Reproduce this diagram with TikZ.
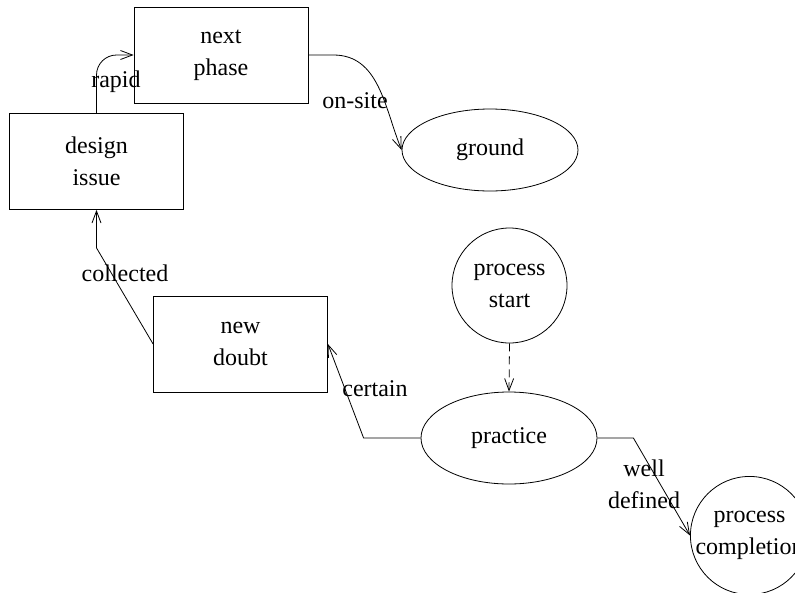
\documentclass[tikz,border=0pt]{standalone}
\usepackage{fontspec}
\setmainfont{Liberation Serif}
\usetikzlibrary{shapes.geometric,arrows.meta,calc}
\begin{document}
\begin{tikzpicture}[x=1pt,y=-1pt,
  every node/.style={font=\fontsize{24}{32}\selectfont},
  base/.style={draw,line width=0.8pt,inner sep=0pt,align=center},
  boxnode/.style={base,rectangle,minimum width=174pt,minimum height=96pt},
  ellnode/.style={base,ellipse,minimum width=176pt,minimum height=82pt},
  circnode/.style={base,circle,minimum size=115pt},
  arr/.style={line width=0.8pt,-{Straight Barb[length=12pt,width=9pt]}},
  lbl/.style={inner sep=0pt,align=center}]
\useasboundingbox (0,0) rectangle (795,592);
\clip (0,0) rectangle (795,592);
\node[boxnode] (np) at (221,55) {next\\phase};
\node[boxnode] (di) at (96.5,161.5) {design\\issue};
\node[ellnode] (gr) at (490,150) {ground};
\node[boxnode] (nd) at (240.5,344) {new\\doubt};
\node[circnode] (ps) at (509.5,285.5) {process\\start};
\node[ellnode,minimum height=92pt] (pr) at (509,438) {practice};
\node[circnode] (pc) at (749.5,535.5) {process\\completion};
% connectors
\draw[arr,rounded corners=20pt] (di.north) |- (np.west);
\draw[arr] (np.east) -- ++(25,0) to[out=0,in=112] (gr.west);
\draw[arr] (nd.west) -- ($(di.south)+(0,38)$) -- (di.south);
\draw[arr,dash pattern=on 8pt off 5pt] (ps.south) -- (pr.north);
\draw[arr] (pr.west) -- ++(-57,0) -- (nd.east);
\draw[arr] (pr.east) -- ++(36,0) -- (pc.west);
% labels
\node[lbl] (l1) at (116,82) {rapid};
\node[lbl] (l2) at (355,101) {on-site};
\node[lbl] (l3) at (125,273) {collected};
\node[lbl] (l4) at (375,389) {certain};
\node[lbl] (l5) at (644,484) {well\\defined};
\end{tikzpicture}
\end{document}
